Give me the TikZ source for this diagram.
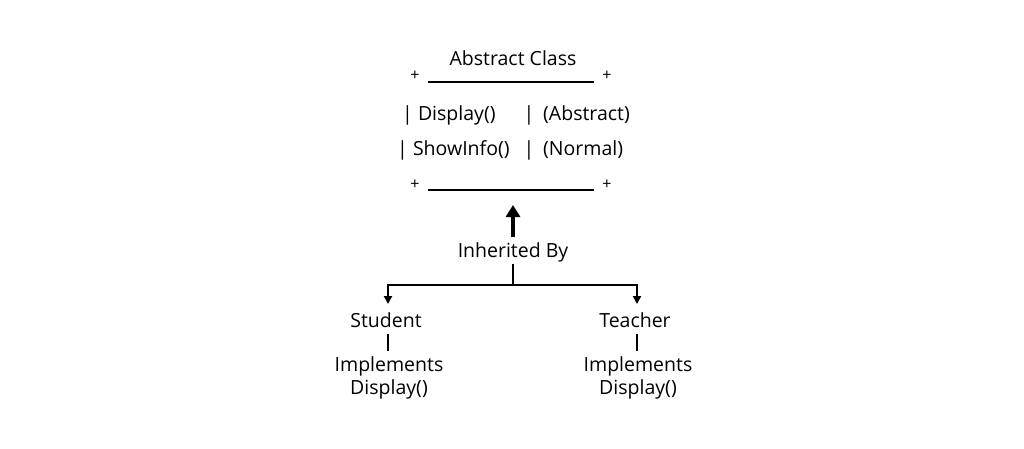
\documentclass[tikz,border=0pt]{standalone}
\usepackage{fontspec}
\setmainfont{Open Sans}
\usetikzlibrary{arrows.meta}
\begin{document}
\begin{tikzpicture}[x=1pt,y=-1pt,
  txt/.style={inner sep=0pt,font=\fontsize{19.5}{23}\selectfont},
  plus/.style={inner sep=0pt,font=\fontsize{16}{18}\selectfont},
  rule/.style={line width=2pt},
  conn/.style={line width=2.4pt},
  tip/.style={-{Triangle[length=8pt,width=8pt]}}]
\useasboundingbox (0,0) rectangle (1024,448);
\node[txt] (title) at (513,58) {Abstract Class};
\node[plus] (p1) at (415,76) {+};
\node[plus] (p2) at (607,76) {+};
\coordinate (r1a) at (428,82);
\coordinate (r1b) at (594,82);
\draw[rule] (r1a) -- (r1b);
\node[txt,anchor=west] (m1) at (402,115) {| Display()};
\node[txt] (s1) at (529,115) {|};
\node[txt,anchor=west] (k1) at (543,115) {(Abstract)};
\node[txt,anchor=west] (m2) at (397,150) {| ShowInfo()};
\node[txt] (s2) at (529,150) {|};
\node[txt,anchor=west] (k2) at (543,150) {(Normal)};
\node[plus] (p3) at (415,185) {+};
\node[plus] (p4) at (607,185) {+};
\coordinate (r2a) at (428,190);
\coordinate (r2b) at (594,190);
\draw[rule] (r2a) -- (r2b);
\coordinate (boxbot) at (513,205);
\node[txt] (inh) at (513,252) {Inherited By};
\draw[line width=4pt,-{Triangle[length=12pt,width=14pt]}] (513,237) -- (boxbot);
\node[txt] (stu) at (386,320) {Student};
\node[txt] (tea) at (635,320) {Teacher};
\coordinate (j) at (513,285);
\draw[conn] (inh.south) ++(0,2) -- (j);
\draw[conn,tip] (j) -| (388,304);
\draw[conn,tip] (j) -| (637,304);
\node[txt,align=center] (si) at (389,378) {Implements\\Display()};
\node[txt,align=center] (ti) at (638,378) {Implements\\Display()};
\draw[line width=1.8pt] (388,334) -- (388,351);
\draw[line width=1.8pt] (637,334) -- (637,351);
\end{tikzpicture}
\end{document}
